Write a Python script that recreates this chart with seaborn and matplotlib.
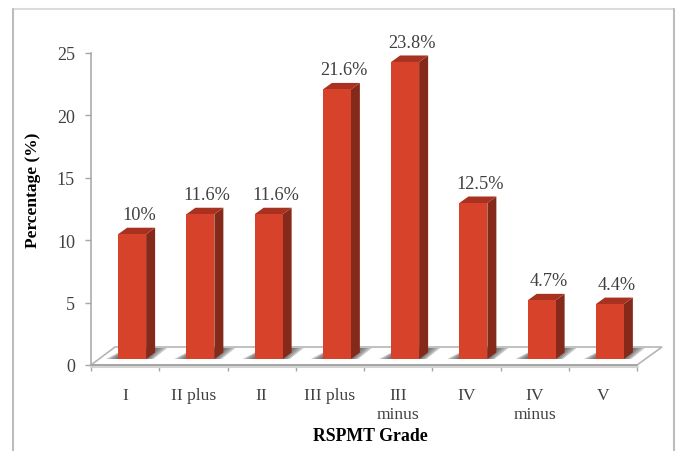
import matplotlib
matplotlib.use("Agg")
import matplotlib.pyplot as plt
import pandas as pd
import seaborn as sns
from matplotlib.lines import Line2D

grades = ["I", "II plus", "II", "III plus", "III\nminus", "IV", "IV\nminus", "V"]
percent = [10, 11.6, 11.6, 21.6, 23.8, 12.5, 4.7, 4.4]
labels = ["10%", "11.6%", "11.6%", "21.6%", "23.8%", "12.5%", "4.7%", "4.4%"]
y_ticks = [0, 5, 10, 15, 20, 25]

FRONT = "#d6432a"
SIDE = "#85291a"
TOP = "#a8321f"
AXIS = "#a6a6a6"
TEXT = "#404040"

W, H = 676, 452
X0, X1, Y0, Y1 = 91, 637, 366, 54

sns.set_theme(style="white")
plt.rcParams["font.family"] = ["Liberation Serif", "DejaVu Serif"]

fig = plt.figure(figsize=(W / 100, H / 100), dpi=100)
ax = fig.add_axes([X0 / W, 1 - Y0 / H, (X1 - X0) / W, (Y0 - Y1) / H])

df = pd.DataFrame({"grade": grades, "percent": percent})
sns.barplot(data=df, x="grade", y="percent", color=FRONT, saturation=1, width=0.41, linewidth=0, ax=ax, zorder=4)
bars = list(ax.containers[0])

ax.set_xlim(-0.5, 7.5)
ax.set_ylim(0, 25)

# pixel sizes turned into data units for the fake 3d depth
px_x = len(grades) / (X1 - X0)
px_y = 25 / (Y0 - Y1)
shift_x, shift_y = 7 * px_x, 6 * px_y
depth_x, depth_y = 9 * px_x, 6.5 * px_y

# floor
floor_x = [-0.5, 7.5, 7.5 + 25 * px_x, -0.5 + 24 * px_x]
floor_y = [0, 0, 18 * px_y, 18 * px_y]
ax.fill(floor_x, floor_y, facecolor="white", edgecolor="#b5b5b5", lw=1.2, clip_on=False, zorder=1)
ax.plot([-0.5, 7.5], [-1.5 * px_y] * 2, color="#d4d4d4", lw=1.5, clip_on=False, zorder=1)

for patch in bars:
    patch.set_x(patch.get_x() + shift_x)
    patch.set_y(shift_y)
    x0 = patch.get_x()
    x1 = x0 + patch.get_width()
    base = shift_y
    top = base + patch.get_height()

    # soft shadow on the floor
    for grow, alpha in [(12, 0.3), (9, 0.25), (6, 0.25), (3, 0.25)]:
        g = grow * px_x
        ax.fill(
            [x0 - g, x1 + g * 0.6, x1 + depth_x + g, x0 + depth_x],
            [base, base, base + 11 * px_y, base + 11 * px_y],
            color="#404040", alpha=alpha, lw=0, zorder=2, clip_on=False,
        )

    ax.fill(
        [x1, x1 + depth_x, x1 + depth_x, x1],
        [base, base + depth_y, top + depth_y, top],
        color=SIDE, lw=0, zorder=3,
    )
    ax.fill(
        [x0, x1, x1 + depth_x, x0 + depth_x],
        [top, top, top + depth_y, top + depth_y],
        color=TOP, lw=0, zorder=3, clip_on=False,
    )

for i, (value, label) in enumerate(zip(percent, labels)):
    ax.annotate(
        label, (i + shift_x + 0.1, value + shift_y), xytext=(0, 14), textcoords="offset points",
        ha="center", va="center", fontsize=13.2, color=TEXT, zorder=5,
    )

sns.despine(ax=ax, top=True, right=True, bottom=True)
ax.spines["left"].set_color(AXIS)
ax.spines["left"].set_linewidth(1.1)
ax.set_yticks(y_ticks)
ax.tick_params(axis="y", left=True, length=4.5, width=1, color=AXIS, labelsize=13, labelcolor=TEXT, pad=7)

# tick marks between categories, labels at the centres
ax.set_xticks(range(len(grades)))
ax.set_xticklabels(grades, linespacing=1.3)
ax.tick_params(axis="x", bottom=False, labelsize=12.6, labelcolor=TEXT, pad=9.5)
ax.set_xticks([i - 0.5 for i in range(len(grades) + 1)], minor=True)
ax.tick_params(axis="x", which="minor", bottom=True, length=4, width=1, color=AXIS)
ax.plot([-0.5, 7.5], [0, 0], color=AXIS, lw=1.4, clip_on=False, zorder=1.5)

ax.set_xlabel("")
ax.set_ylabel("")
fig.text(370 / W, 1 - 437 / H, "RSPMT Grade", ha="center", va="center", fontsize=12.8, fontweight="bold", color="black")
fig.text(33 / W, 1 - 190 / H, "Percentage (%)", rotation=90, ha="center", va="center", fontsize=12.5, fontweight="bold", color="black")

# outer chart frame, open at the bottom of the image
fig.add_artist(Line2D([13 / W, 674 / W], [1 - 9.5 / H] * 2, color="#dcdcdc", lw=1.5))
fig.add_artist(Line2D([13 / W, 13 / W], [0, 1 - 9.5 / H], color="#bdbdbd", lw=1.5))
fig.add_artist(Line2D([674 / W, 674 / W], [0, 1 - 9.5 / H], color="#bdbdbd", lw=1.5))

fig.savefig("out.png", dpi=100)
